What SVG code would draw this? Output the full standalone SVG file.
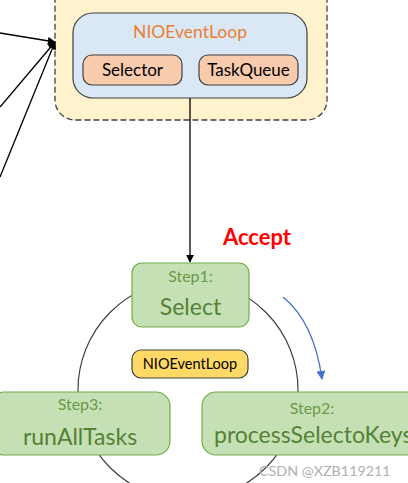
<svg xmlns="http://www.w3.org/2000/svg" width="408" height="483" viewBox="0 0 408 483">
<defs>
<style>
.t{font-family:Lato,"Open Sans","Noto Sans",sans-serif}
.step{fill:#c5e0b4;stroke:#70ad47;stroke-width:1.2}
.sl{fill:#6a9a4a;font-size:16px}
.sn{fill:#548235;font-size:23px}
.peach{fill:#f8cbad;stroke:#404040;stroke-width:1.2}
.line{fill:none;stroke:#000;stroke-width:1.3}
</style>
<marker id="ah" viewBox="0 0 10 10" refX="9" refY="5" markerWidth="8" markerHeight="8" markerUnits="userSpaceOnUse" orient="auto"><path d="M0,0 L10,5 L0,10 z" fill="#000"/></marker>
<marker id="ahb" viewBox="0 0 10 10" refX="9" refY="5" markerWidth="9" markerHeight="9" markerUnits="userSpaceOnUse" orient="auto"><path d="M0,0 L10,5 L0,10 z" fill="#4472c4"/></marker>
</defs>
<rect width="408" height="483" fill="#fff"/>
<g id="container">
<rect x="55" y="-30" width="272" height="150" rx="20" fill="#fff2cc" stroke="#404040" stroke-width="1.3" stroke-dasharray="6,3"/>
</g>
<g id="nioeventloop-top">
<rect x="73" y="13" width="234" height="85" rx="20" fill="#dae8f5" stroke="#404040" stroke-width="1.2"/>
<text class="t" x="190" y="38" text-anchor="middle" font-size="17.5" fill="#ed7d31">NIOEventLoop</text>
</g>
<g id="selector">
<rect class="peach" x="83" y="55" width="99" height="30" rx="9"/>
<text class="t" x="132.5" y="76" text-anchor="middle" font-size="17" fill="#000">Selector</text>
</g>
<g id="taskqueue">
<rect class="peach" x="199" y="55" width="99" height="30" rx="9"/>
<text class="t" x="248.5" y="76" text-anchor="middle" font-size="17" fill="#000">TaskQueue</text>
</g>
<g id="connectors">
<path class="line" d="M0,33 L55,42" marker-end="url(#ah)"/>
<path class="line" d="M0,107 L55,42" marker-end="url(#ah)"/>
<path class="line" d="M0,177 L55,42" marker-end="url(#ah)"/>
<path class="line" d="M190,98 L190,262" marker-end="url(#ah)"/>
<circle cx="188" cy="390" r="110" fill="none" stroke="#404040" stroke-width="1.2"/>
<path d="M283,297 Q314,322 322,379" fill="none" stroke="#4472c4" stroke-width="1.3" marker-end="url(#ahb)"/>
</g>
<text class="t" x="257" y="245" text-anchor="middle" font-size="22" font-weight="bold" fill="#ff0000">Accept</text>
<g id="step1">
<rect class="step" x="132" y="263" width="117" height="64" rx="10"/>
<text class="t sl" x="190.5" y="282" text-anchor="middle">Step1:</text>
<text class="t sn" x="190.5" y="315" text-anchor="middle">Select</text>
</g>
<g id="nioeventloop-center">
<rect x="132" y="350" width="116" height="28" rx="9" fill="#ffd966" stroke="#404040" stroke-width="1.2"/>
<text class="t" x="190" y="369" text-anchor="middle" font-size="14.5" fill="#000">NIOEventLoop</text>
</g>
<g id="step3">
<rect class="step" x="-10" y="392" width="180" height="63" rx="14"/>
<text class="t sl" x="80" y="410" text-anchor="middle">Step3:</text>
<text class="t sn" x="80" y="445" text-anchor="middle">runAllTasks</text>
</g>
<g id="step2">
<rect class="step" x="202" y="392" width="230" height="63" rx="14"/>
<text class="t sl" x="312" y="414" text-anchor="middle">Step2:</text>
<text class="t sn" x="214" y="443">processSelectoKeys</text>
</g>
<text class="t" x="259" y="476" font-size="14.3" fill="#b0b0b0">CSDN @XZB119211</text>
</svg>
